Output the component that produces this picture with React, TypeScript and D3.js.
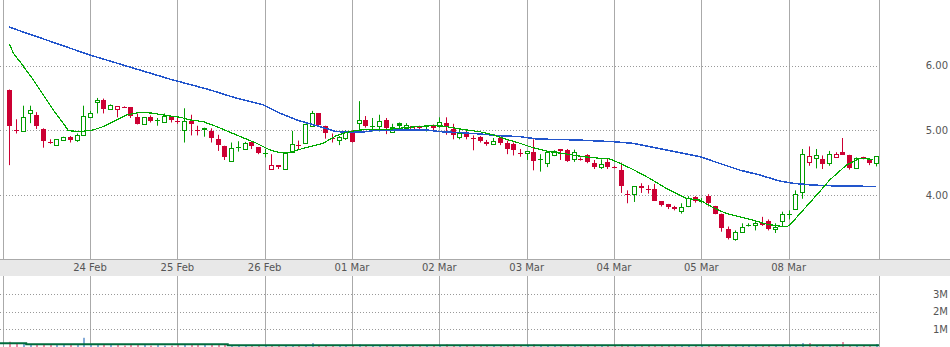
import React from "react";
import * as d3 from "d3";

// ---- Data (30-min bars, 13 per trading day) ----
const dayLabels = ["", "24 Feb", "25 Feb", "26 Feb", "01 Mar", "02 Mar", "03 Mar", "04 Mar", "05 Mar", "08 Mar"];
const dayStartIdx = [0, 13, 26, 39, 52, 65, 78, 91, 104, 117];

const priceTicks = [4, 5, 6];
const priceTickLabels = ["4.00", "5.00", "6.00"];
const volTicks = [1, 2, 3];
const volTickLabels = ["1M", "2M", "3M"];

const prevCloseStart = 5.62;

const opens = [
  5.625, 5.0, 4.99, 5.26, 5.24, 5.02, 4.82, 4.77, 4.85, 4.9,
  4.85, 4.92, 5.21, 5.43, 5.47, 5.33, 5.33, 5.36, 5.36, 5.2,
  5.09, 5.21, 5.16, 5.13, 5.21, 5.14, 5.0, 5.15, 5.0, 5.04,
  4.99, 4.87, 4.76, 4.53, 4.74, 4.71, 4.82, 4.74, 4.65, 4.4,
  4.46, 4.4, 4.66, 4.77, 4.81, 5.06, 5.26, 5.07, 4.885, 4.85,
  4.88, 4.95, 5.11, 5.16, 5.07, 5.06, 5.16, 4.98, 5.11, 5.04,
  5.02, 5.05, 5.08, 5.08, 5.06, 5.11, 5.02, 4.89, 4.98, 4.885,
  4.9, 4.82, 4.78, 4.88, 4.81, 4.79, 4.645, 4.645, 4.66, 4.55,
  4.49, 4.61, 4.705, 4.69, 4.55, 4.555, 4.62, 4.5, 4.43, 4.51,
  4.425, 4.38, 4.01, 4.01, 4.14, 4.09, 4.09, 3.9, 3.86, 3.82,
  3.75, 3.83, 3.96, 3.91, 3.98, 3.83, 3.71, 3.47, 3.32, 3.42,
  3.53, 3.53, 3.57, 3.59, 3.47, 3.6, 3.7, 3.78, 4.04, 4.51,
  4.57, 4.56, 4.49, 4.58, 4.66, 4.62, 4.41, 4.58, 4.55, 4.49,
];
const highs = [
  5.63, 5.17, 5.38, 5.38, 5.28, 5.03, 4.86, 4.86, 4.9, 4.91,
  4.95, 5.38, 5.3, 5.5, 5.49, 5.4, 5.37, 5.37, 5.36, 5.26,
  5.2, 5.23, 5.19, 5.26, 5.21, 5.21, 5.34, 5.24, 5.07, 5.04,
  5.03, 4.93, 4.76, 4.81, 4.83, 4.82, 4.82, 4.74, 4.71, 4.63,
  4.46, 4.65, 4.99, 4.84, 5.1, 5.3, 5.26, 5.07, 4.95, 4.91,
  5.0, 5.0, 5.45, 5.22, 5.19, 5.24, 5.19, 5.1, 5.12, 5.11,
  5.06, 5.07, 5.08, 5.09, 5.2, 5.2, 5.1, 5.02, 5.02, 4.92,
  4.91, 4.85, 4.88, 4.9, 4.84, 4.81, 4.71, 4.68, 4.86, 4.63,
  4.66, 4.69, 4.71, 4.71, 4.7, 4.58, 4.63, 4.54, 4.55, 4.56,
  4.45, 4.5, 4.07, 4.13, 4.18, 4.15, 4.17, 3.9, 3.86, 3.83,
  3.87, 3.98, 3.98, 3.95, 4.01, 3.83, 3.71, 3.51, 3.45, 3.56,
  3.56, 3.61, 3.66, 3.62, 3.56, 3.74, 3.76, 4.07, 4.71, 4.75,
  4.71, 4.61, 4.68, 4.66, 4.88, 4.62, 4.58, 4.59, 4.55, 4.6,
];
const lows = [
  4.46, 4.95, 4.98, 5.11, 5.02, 4.73, 4.79, 4.77, 4.84, 4.81,
  4.82, 4.92, 5.2, 5.26, 5.26, 5.32, 5.2, 5.35, 5.19, 5.09,
  5.09, 5.12, 5.07, 5.13, 5.12, 5.1, 4.81, 4.92, 4.92, 4.9,
  4.81, 4.68, 4.54, 4.53, 4.67, 4.71, 4.71, 4.63, 4.58, 4.4,
  4.4, 4.4, 4.66, 4.7, 4.79, 5.06, 5.08, 4.87, 4.81, 4.77,
  4.85, 4.81, 4.98, 5.04, 4.98, 4.98, 4.94, 4.98, 5.03, 5.01,
  4.99, 5.02, 4.98, 5.0, 5.04, 4.93, 4.86, 4.86, 4.86, 4.69,
  4.81, 4.76, 4.78, 4.77, 4.63, 4.61, 4.59, 4.54, 4.38, 4.36,
  4.43, 4.6, 4.54, 4.51, 4.51, 4.53, 4.49, 4.4, 4.4, 4.4,
  4.41, 4.03, 3.87, 3.89, 4.03, 4.02, 3.91, 3.82, 3.78, 3.76,
  3.71, 3.81, 3.88, 3.87, 3.82, 3.7, 3.43, 3.31, 3.29, 3.42,
  3.51, 3.45, 3.52, 3.45, 3.41, 3.51, 3.62, 3.77, 3.94, 4.45,
  4.41, 4.4, 4.45, 4.58, 4.62, 4.39, 4.41, 4.55, 4.46, 4.44,
];
const closes = [
  5.07, 5.0, 5.2, 5.31, 5.06, 4.84, 4.82, 4.86, 4.89, 4.85,
  4.93, 5.22, 5.26, 5.47, 5.33, 5.39, 5.37, 5.36, 5.22, 5.09,
  5.2, 5.15, 5.16, 5.22, 5.16, 5.14, 5.15, 5.09, 5.0, 5.0,
  4.88, 4.77, 4.58, 4.72, 4.74, 4.8, 4.76, 4.65, 4.65, 4.46,
  4.43, 4.65, 4.79, 4.77, 5.1, 5.26, 5.08, 4.96, 4.885, 4.9,
  4.97, 4.82, 5.16, 5.07, 5.07, 5.15, 5.03, 5.05, 5.06, 5.08,
  5.06, 5.05, 5.05, 5.04, 5.12, 5.06, 4.92, 4.95, 4.89, 4.885,
  4.84, 4.78, 4.83, 4.81, 4.71, 4.69, 4.645, 4.675, 4.52, 4.55,
  4.66, 4.68, 4.675, 4.52, 4.66, 4.555, 4.51, 4.43, 4.48, 4.43,
  4.425, 4.13, 4.01, 4.13, 4.11, 4.09, 3.91, 3.84, 3.815, 3.78,
  3.81, 3.95, 3.91, 3.91, 3.87, 3.71, 3.49, 3.33, 3.42, 3.51,
  3.53, 3.57, 3.53, 3.47, 3.51, 3.7, 3.7, 4.01, 4.64, 4.6,
  4.62, 4.48, 4.64, 4.63, 4.62, 4.41, 4.575, 4.555, 4.5, 4.6,
];
// volume in millions
const volumes = [
  0.3, 0.19, 0.19, 0.15, 0.15, 0.15, 0.15, 0.15, 0.15, 0.15,
  0.15, 0.52, 0.15, 0.15, 0.15, 0.15, 0.15, 0.08, 0.15, 0.15,
  0.15, 0.08, 0.15, 0.08, 0.08, 0.15, 0.15, 0.15, 0.15, 0.15,
  0.15, 0.15, 0.15, 0.08, 0.08, 0.08, 0.08, 0.08, 0.08, 0.08,
  0.08, 0.08, 0.08, 0.08, 0.08, 0.22, 0.06, 0.06, 0.06, 0.06,
  0.06, 0.06, 0.15, 0.06, 0.06, 0.06, 0.06, 0.06, 0.06, 0.06,
  0.06, 0.06, 0.06, 0.06, 0.06, 0.15, 0.06, 0.06, 0.06, 0.06,
  0.06, 0.06, 0.06, 0.06, 0.06, 0.15, 0.06, 0.06, 0.15, 0.06,
  0.06, 0.06, 0.06, 0.06, 0.06, 0.06, 0.06, 0.06, 0.06, 0.06,
  0.06, 0.15, 0.06, 0.06, 0.06, 0.06, 0.06, 0.06, 0.06, 0.06,
  0.06, 0.06, 0.06, 0.06, 0.06, 0.06, 0.06, 0.06, 0.06, 0.06,
  0.06, 0.06, 0.06, 0.06, 0.06, 0.06, 0.06, 0.06, 0.22, 0.22,
  0.06, 0.06, 0.06, 0.06, 0.28, 0.06, 0.06, 0.06, 0.06, 0.17,
];
// volume moving average (M), stepped
const volMaIdx = [-0.4, 3.5, 33.5];
const volMaVal = [0.21, 0.15, 0.095];

// short moving average (green)
const maShortIdx = [
  1, 1.58, 2.57, 4.55, 6.04, 7.53, 9.02, 9.76, 11.5, 13.48, 14.97, 16.96, 18.45, 20.43, 22.41, 24.4, 26.4,
  27.9, 29.85, 31.85, 34.8, 37.8, 39.8, 41.3, 42.75, 44.24, 45.7, 47.7, 49.7, 51.7, 54.2, 57.6,
  60.6, 63.6, 65.1, 66.6, 69.0, 71.0, 73.0, 75.0, 77.0, 78.96, 81.4, 83.9, 86.4, 88.9, 90.4,
  91.9, 93.8, 96.3, 98.8, 101.8, 103.8, 105.7, 107.7, 109.7, 111.7, 113.7, 115.7, 116.9, 117.6,
  119.6, 121.6, 123.1, 125.6, 127.6, 129.5,
];
const maShortVal = [
  6.338, 6.192, 6.062, 5.78, 5.547, 5.315, 5.109, 4.994, 4.978, 5.005, 5.056, 5.16, 5.237, 5.279, 5.264, 5.226, 5.202,
  5.16, 5.133, 5.056, 4.927, 4.798, 4.695, 4.653, 4.659, 4.705, 4.746, 4.798, 4.919, 4.981, 5.016, 5.016,
  5.047, 5.071, 5.071, 5.047, 5.005, 4.978, 4.927, 4.86, 4.798, 4.73, 4.668, 4.633, 4.591, 4.566, 4.555,
  4.488, 4.395, 4.256, 4.101, 3.946, 3.919, 3.806, 3.713, 3.66, 3.609, 3.547, 3.516, 3.516, 3.583,
  3.816, 4.048, 4.229, 4.462, 4.566, 4.55,
];
// long moving average (blue)
const maLongIdx = [
  0.94, 12.9, 24.9, 30.85, 34.8, 38.8, 41.3, 43.75, 47.2, 49.7, 53.4, 55.15, 60.1, 63.1, 65.1, 68.05,
  71.0, 74.0, 77.0, 79.5, 85.4, 90.9, 93.8, 96.8, 100.8, 103.8, 106.7, 109.7, 112.7, 115.7, 117.7,
  120.6, 124.6, 129.95,
];
const maLongVal = [
  6.597, 6.167, 5.791, 5.625, 5.496, 5.392, 5.264, 5.16, 5.056, 4.978, 4.969, 4.994, 5.005, 5.005, 4.978, 4.963,
  4.943, 4.916, 4.901, 4.865, 4.85, 4.823, 4.798, 4.736, 4.653, 4.591, 4.488, 4.384, 4.307, 4.214, 4.178,
  4.152, 4.136, 4.132,
];

// ---- Style ----
const GREEN = "#009c00";
const RED = "#cc0033";
const VOL_UP = "#86acd8";
const VOL_DN = "#e88aa6";
const GRID = "#aaaaaa";
const TEXT = "#555555";
const FONT = "DejaVu Sans, Verdana, sans-serif";

export default function App() {
  const W = 950;
  const H = 347;
  const plotRight = 879;
  const mainBottom = 259;
  const bandBottom = 276;

  const x = d3.scaleLinear().domain([-0.4, 130.45]).range([0, plotRight]);
  const y = d3.scaleLinear().domain([3, 7]).range([259.5, 1]);
  const yv = d3.scaleLinear().domain([0, 4]).range([347, 276.2]);

  const crisp = (v: number) => Math.round(v) + 0.5;

  const candles = opens.map((o, k) => {
    const idx = k + 1;
    const c = closes[k];
    const hi = highs[k];
    const lo = lows[k];
    const prev = k === 0 ? prevCloseStart : closes[k - 1];
    const color = c >= prev ? GREEN : RED;
    return { idx, o, c, hi, lo, color, v: volumes[k] };
  });

  const lineShort = d3
    .line<number>()
    .x((_, k) => x(maShortIdx[k]))
    .y((d) => y(d))
    .curve(d3.curveLinear);
  const lineLong = d3
    .line<number>()
    .x((_, k) => x(maLongIdx[k]))
    .y((d) => y(d))
    .curve(d3.curveLinear);

  const volMaPts: [number, number][] = volMaIdx.map((d, k) => [x(d), yv(volMaVal[k])]);
  volMaPts.push([plotRight, yv(volMaVal[volMaVal.length - 1])]);
  const volMaLine = d3.line().curve(d3.curveStepAfter)(volMaPts) || "";

  return (
    <div>
      <style>{"body{margin:0;background:#fff}"}</style>
      <svg width={W} height={H} style={{ display: "block", position: "absolute", left: 0, top: 0 }}>
        <rect x={0} y={0} width={W} height={H} fill="#ffffff" />

        {/* main panel vertical grid */}
        {dayStartIdx.map((d, k) => (
          <line key={"vg" + k} x1={crisp(x(d))} x2={crisp(x(d))} y1={0} y2={mainBottom} stroke={GRID} strokeWidth={1} />
        ))}
        <line x1={plotRight + 0.5} x2={plotRight + 0.5} y1={0} y2={mainBottom} stroke={GRID} strokeWidth={1} />

        {/* price dotted grid */}
        {priceTicks.map((t, k) => (
          <g key={"pg" + k}>
            <line
              x1={0}
              x2={plotRight}
              y1={crisp(y(t))}
              y2={crisp(y(t))}
              stroke="#999"
              strokeWidth={1}
              strokeDasharray="1,2"
            />
            <text x={948} y={y(t) + 3.8} textAnchor="end" fontFamily={FONT} fontSize={10} fill={TEXT}>
              {priceTickLabels[k]}
            </text>
          </g>
        ))}

        {/* candles */}
        {candles.map((cd) => {
          const cx = Math.round(x(cd.idx));
          const yo = y(cd.o);
          const yc = y(cd.c);
          const doji = Math.abs(yo - yc) < 0.8;
          const hollow = cd.c >= cd.o;
          return (
            <g key={"c" + cd.idx}>
              <line x1={cx + 0.5} x2={cx + 0.5} y1={y(cd.hi)} y2={y(cd.lo)} stroke={cd.color} strokeWidth={1} />
              {doji ? (
                <line x1={cx - 2} x2={cx + 3} y1={crisp(yo)} y2={crisp(yo)} stroke={cd.color} strokeWidth={1} />
              ) : hollow ? (
                <rect
                  x={cx - 1.5}
                  y={Math.round(yc) + 0.5}
                  width={4}
                  height={Math.max(1, Math.round(yo) - Math.round(yc))}
                  fill="#ffffff"
                  stroke={cd.color}
                  strokeWidth={1}
                />
              ) : (
                <rect
                  x={cx - 2}
                  y={Math.round(yo)}
                  width={5}
                  height={Math.max(1, Math.round(yc) - Math.round(yo))}
                  fill={cd.color}
                />
              )}
            </g>
          );
        })}

        {/* moving averages */}
        <path
          d={lineLong(maLongVal) || ""}
          fill="none"
          stroke="#2255cc"
          strokeWidth={1.5}
          shapeRendering="crispEdges"
        />
        <path
          d={lineShort(maShortVal) || ""}
          fill="none"
          stroke="#00aa00"
          strokeWidth={1.2}
          shapeRendering="crispEdges"
        />

        {/* axis band */}
        <rect x={0} y={mainBottom} width={W} height={bandBottom - mainBottom} fill="#e8e8e8" />
        <line x1={0} x2={W} y1={mainBottom + 0.5} y2={mainBottom + 0.5} stroke={GRID} strokeWidth={1} />
        {dayStartIdx.map((d, k) =>
          dayLabels[k] ? (
            <text
              key={"dl" + k}
              x={x(d)}
              y={271}
              textAnchor="middle"
              fontFamily={FONT}
              fontSize={10}
              fill={TEXT}
            >
              {dayLabels[k]}
            </text>
          ) : null
        )}

        {/* volume panel */}
        {dayStartIdx.map((d, k) => (
          <line key={"vvg" + k} x1={crisp(x(d))} x2={crisp(x(d))} y1={bandBottom} y2={H} stroke={GRID} strokeWidth={1} />
        ))}
        <line x1={plotRight + 0.5} x2={plotRight + 0.5} y1={bandBottom} y2={H} stroke={GRID} strokeWidth={1} />
        {volTicks.map((t, k) => (
          <g key={"vt" + k}>
            <line
              x1={0}
              x2={plotRight}
              y1={crisp(yv(t))}
              y2={crisp(yv(t))}
              stroke="#999"
              strokeWidth={1}
              strokeDasharray="1,2"
            />
            <text x={948} y={yv(t) + 3.8} textAnchor="end" fontFamily={FONT} fontSize={10} fill={TEXT}>
              {volTickLabels[k]}
            </text>
          </g>
        ))}
        {candles.map((cd) => {
          const cx = Math.round(x(cd.idx));
          return (
            <rect
              key={"v" + cd.idx}
              x={cx}
              y={yv(cd.v)}
              width={2}
              height={yv(0) - yv(cd.v)}
              fill={cd.color === GREEN ? VOL_UP : VOL_DN}
            />
          );
        })}
        <path d={volMaLine} fill="none" stroke="#006b3c" strokeWidth={2} />
      </svg>
    </div>
  );
}
